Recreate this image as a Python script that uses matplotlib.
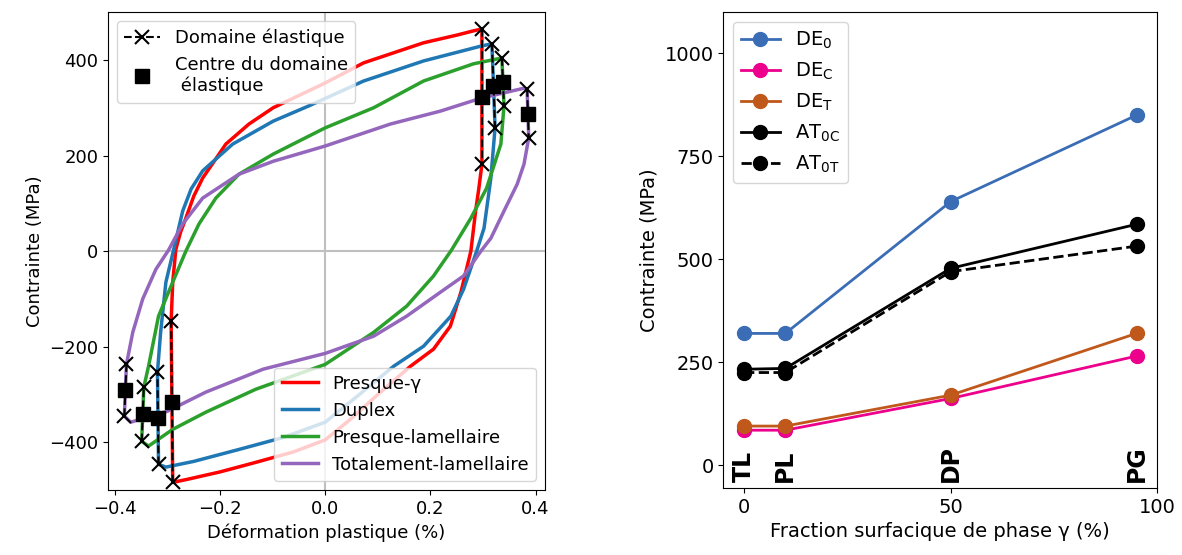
import numpy as np
import matplotlib
matplotlib.use("Agg")
import matplotlib.pyplot as plt

plt.rcParams['font.family'] = ['DejaVu Sans']
plt.rcParams['mathtext.default'] = 'regular'

# --- boucles d'hysteresis (gauche) ---
# Presque-gamma
pg_up_x = [-0.293, -0.290, -0.284, -0.275, -0.265, -0.250, -0.233, -0.210, -0.189, -0.145, -0.099, 0.0, 0.073, 0.187, 0.250, 0.282, 0.298]
pg_up_y = [-147, -65, 4, 40, 69, 115, 153, 190, 224, 266, 300, 352, 394, 436, 452, 461, 465]
pg_lo_x = [0.298, 0.292, 0.286, 0.277, 0.258, 0.238, 0.206, 0.162, 0.10, 0.05, 0.0, -0.06, -0.132, -0.20, -0.26, -0.290]
pg_lo_y = [182, 130, 84, 0, -86, -157, -205, -241, -300, -350, -395, -420, -442, -462, -477, -484]
# Duplex
dp_up_x = [-0.319, -0.313, -0.303, -0.288, -0.271, -0.255, -0.233, -0.176, -0.099, -0.031, 0.073, 0.187, 0.296, 0.317]
dp_up_y = [-253, -170, -65, 4, 84, 130, 168, 224, 272, 304, 356, 398, 429, 434]
dp_lo_x = [0.323, 0.315, 0.302, 0.288, 0.263, 0.239, 0.187, 0.130, 0.065, 0.0, -0.08, -0.164, -0.25, -0.303, -0.317]
dp_lo_y = [258, 153, 48, 0, -80, -136, -199, -241, -300, -358, -390, -415, -440, -452, -446]
# Presque-lamellaire
pl_up_x = [-0.345, -0.336, -0.317, -0.29, -0.265, -0.240, -0.208, -0.164, -0.099, 0.0, 0.092, 0.187, 0.282, 0.326, 0.336]
pl_up_y = [-285, -241, -136, -65, 0, 57, 111, 161, 203, 258, 300, 356, 392, 402, 404]
pl_lo_x = [0.340, 0.334, 0.307, 0.277, 0.240, 0.206, 0.155, 0.092, 0.0, -0.132, -0.227, -0.290, -0.336, -0.349]
pl_lo_y = [304, 224, 132, 69, 2, -52, -115, -170, -237, -289, -337, -373, -408, -398]
# Totalement-lamellaire
tl_up_x = [-0.378, -0.366, -0.347, -0.322, -0.298, -0.271, -0.233, -0.164, -0.099, 0.0, 0.124, 0.219, 0.296, 0.378, 0.384]
tl_up_y = [-237, -170, -100, -38, 2, 57, 111, 161, 188, 220, 266, 293, 320, 341, 339]
tl_lo_x = [0.387, 0.378, 0.365, 0.34, 0.315, 0.296, 0.263, 0.219, 0.155, 0.092, 0.0, -0.118, -0.227, -0.300, -0.370, -0.382]
tl_lo_y = [237, 182, 140, 84, 27, 0, -52, -86, -136, -178, -214, -247, -295, -335, -358, -345]

loops = [
    ("Presque-γ", "red", pg_up_x, pg_up_y, pg_lo_x, pg_lo_y),
    ("Duplex", "tab:blue", dp_up_x, dp_up_y, dp_lo_x, dp_lo_y),
    ("Presque-lamellaire", "tab:green", pl_up_x, pl_up_y, pl_lo_x, pl_lo_y),
    ("Totalement-lamellaire", "tab:purple", tl_up_x, tl_up_y, tl_lo_x, tl_lo_y),
]

# --- graphe de droite ---
frac = [0, 10, 50, 95]
de0 = [320, 320, 640, 850]
dec = [85, 85, 162, 265]
det = [95, 95, 170, 320]
at0c = [233, 235, 478, 585]
at0t = [225, 225, 470, 532]
noms = ["TL", "PL", "DP", "PG"]

fig = plt.figure(figsize=(11.82, 5.55), dpi=100)
ax1 = fig.add_axes([0.0914, 0.117, 0.3697, 0.861])
ax2 = fig.add_axes([0.612, 0.121, 0.367, 0.857])

ax1.axhline(0, color="0.75", lw=1.5, zorder=0)
ax1.axvline(0, color="0.75", lw=1.5, zorder=0)

lignes = []
premier = True
for nom, c, ux, uy, lx, ly in loops:
    xs = ux + lx + [ux[0]]
    ys = uy + ly + [uy[0]]
    l, = ax1.plot(xs, ys, color=c, lw=2.5, label=nom)
    lignes.append(l)
    # domaines elastiques : gauche (lx[-1],ly[-1])->(ux[0],uy[0]), droite (ux[-1],uy[-1])->(lx[0],ly[0])
    for (xa, ya), (xb, yb) in [((lx[-1], ly[-1]), (ux[0], uy[0])), ((ux[-1], uy[-1]), (lx[0], ly[0]))]:
        e, = ax1.plot([xa, xb], [ya, yb], "k--x", lw=1.5, ms=10, mew=1.5, zorder=3)
        s, = ax1.plot([(xa + xb) / 2], [(ya + yb) / 2], "ks", ms=10, zorder=4)
        if premier:
            h_el, h_c = e, s
            premier = False

leg1 = ax1.legend([h_el, h_c], ["Domaine élastique", "Centre du domaine\n élastique"],
                  loc="upper left", fontsize=13)
ax1.add_artist(leg1)
ax1.legend(handles=lignes, loc="lower right", fontsize=13)
ax1.set_xlim(-0.413, 0.418)
ax1.set_ylim(-500, 500)
ax1.set_xticks([-0.4, -0.2, 0.0, 0.2, 0.4])
ax1.set_yticks([-400, -200, 0, 200, 400])
ax1.tick_params(labelsize=13)
ax1.set_xlabel("Déformation plastique (%)", fontsize=13)
ax1.set_ylabel("Contrainte (MPa)", fontsize=13)

ax2.plot(frac, de0, "-o", color="#3a6db5", lw=2, ms=10, label="DE$_0$")
ax2.plot(frac, dec, "-o", color="#ec008c", lw=2, ms=10, label="DE$_C$")
ax2.plot(frac, det, "-o", color="#c0581b", lw=2, ms=10, label="DE$_T$")
ax2.plot(frac, at0c, "-o", color="black", lw=2, ms=10, label="AT$_{0C}$")
ax2.plot(frac, at0t, "--o", color="black", lw=2, ms=10, label="AT$_{0T}$")
for xv, n in zip(frac, noms):
    ax2.text(xv, -40, n, rotation=90, ha="center", va="bottom", fontsize=17, fontweight="bold")
ax2.legend(loc="upper left", fontsize=14)
ax2.set_xlim(-5, 100)
ax2.set_ylim(-55, 1100)
ax2.set_xticks([0, 50, 100])
ax2.set_yticks([0, 250, 500, 750, 1000])
ax2.tick_params(labelsize=14)
ax2.set_xlabel("Fraction surfacique de phase γ (%)", fontsize=14)
ax2.set_ylabel("Contrainte (MPa)", fontsize=14)

fig.savefig("out.png", dpi=100)
